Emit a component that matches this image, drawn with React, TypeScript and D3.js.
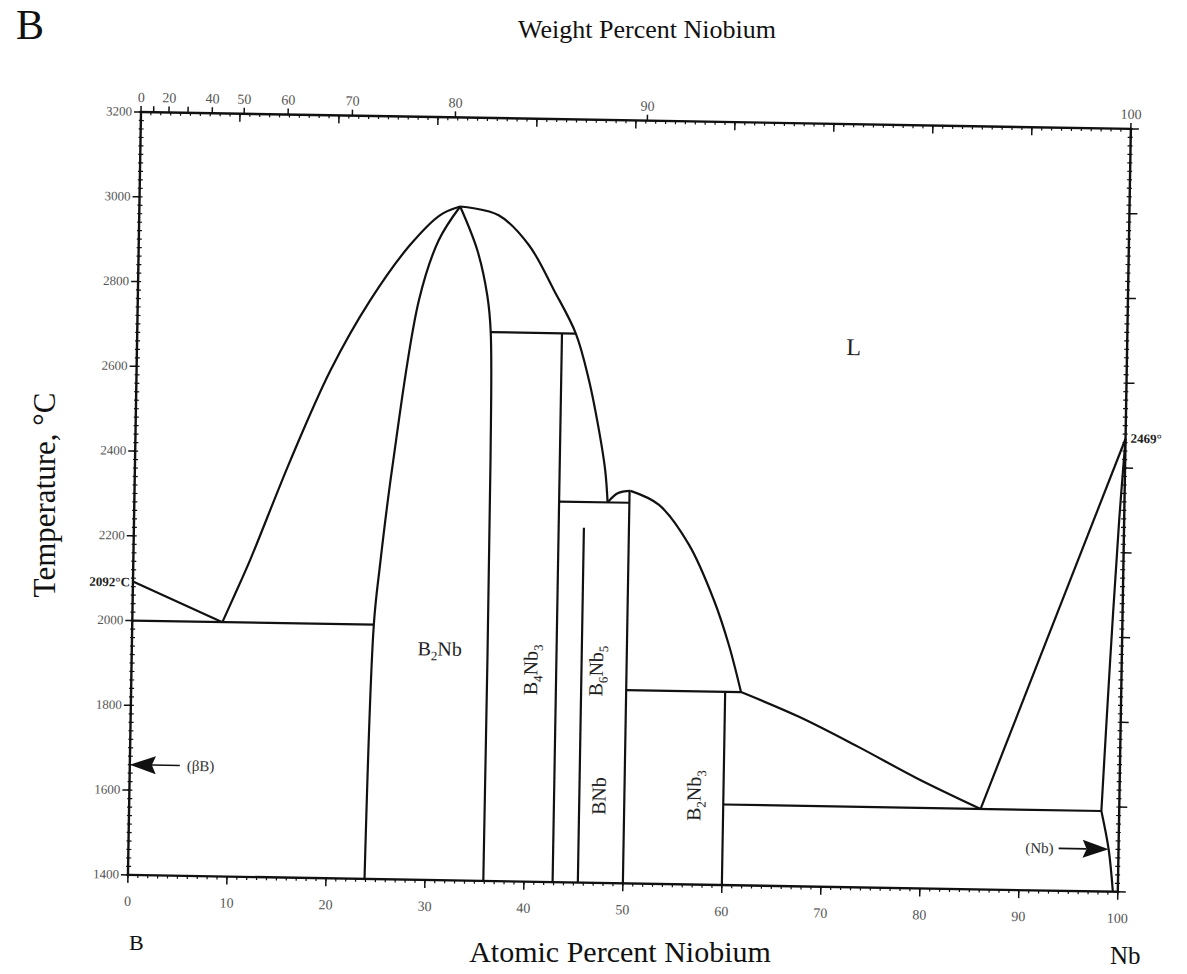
import React from "react";
import * as d3 from "d3";

// ---- axis ticks ----
const atomicTicks = [0, 10, 20, 30, 40, 50, 60, 70, 80, 90, 100];
const weightTicks = [0, 10, 20, 30, 40, 50, 60, 70, 80, 90, 100];
const weightLabels = [0, 20, 40, 50, 60, 70, 80, 90, 100];
const tempTicks = [1400, 1600, 1800, 2000, 2200, 2400, 2600, 2800, 3000, 3200];

// ---- phase boundaries (atomic % Nb, °C) ----
const boronLiquidus = [[0, 2092], [9.1, 2000]];
const liquidusB2NbLeft = [[9.1, 2000], [10.3, 2065], [11.8, 2148], [15.7, 2385], [19.6, 2599], [23.5, 2766], [27.4, 2897], [30.4, 2969], [32.4, 2990]];
const liquidusB2NbRight = [[32.4, 2990], [36.3, 2971], [39.4, 2902], [42.0, 2797], [44.3, 2695], [45.7, 2586], [46.8, 2468], [47.5, 2374], [47.8, 2298]];
const humpBNb = [[47.8, 2298], [48.8, 2320], [50.1, 2326]];
const liquidusBNbRight = [[50.1, 2326], [53.0, 2294], [56.1, 2201], [58.7, 2072], [60.3, 1966], [61.6, 1856]];
const liquidusB2Nb3 = [[61.6, 1856], [67.5, 1800], [73.5, 1732], [79.5, 1660], [86.0, 1590]];
const liquidusNb = [[86.0, 1590], [100, 2469]];
const solidusNb = [[100, 2469], [99.5, 2278], [98.8, 1930], [98.2, 1590]];
const solvusNb = [[98.2, 1590], [99.0, 1500], [99.5, 1400]];
const b2NbLeft = [[32.4, 2990], [30.3, 2910], [28.4, 2768], [26.0, 2373], [24.9, 2136], [24.4, 2000], [23.9, 1400]];
const b2NbRight = [[32.4, 2990], [34.2, 2888], [35.3, 2780], [35.7, 2695], [35.9, 2400], [35.9, 1400]];

const horizontals = [
  [[0, 2000], [24.4, 2000]],
  [[35.7, 2695], [44.3, 2695]],
  [[42.9, 2298], [50.0, 2298]],
  [[50.0, 1856], [61.6, 1856]],
  [[60.0, 1590], [98.2, 1590]],
];
const verticals = [
  [[42.9, 2695], [42.9, 1400]],
  [[45.45, 2237], [45.45, 1400]],
  [[50.0, 2326], [50.0, 1400]],
  [[60.0, 1856], [60.0, 1400]],
];

const W = 990;
const H = 763;

const wtToAt = (w: number) => {
  const a = w / 92.906;
  const b = (100 - w) / 10.811;
  return (100 * a) / (a + b);
};

export default function App() {
  const x = d3.scaleLinear().domain([0, 100]).range([0, W]);
  const y = d3.scaleLinear().domain([1400, 3200]).range([H, 0]);
  const smooth = d3
    .line<number[]>()
    .x((d) => x(d[0]))
    .y((d) => y(d[1]))
    .curve(d3.curveCatmullRom.alpha(0.5));
  const straight = d3
    .line<number[]>()
    .x((d) => x(d[0]))
    .y((d) => y(d[1]));

  const curves = [liquidusB2NbLeft, liquidusB2NbRight, humpBNb, liquidusBNbRight, liquidusB2Nb3, solidusNb, solvusNb, b2NbLeft, b2NbRight];
  const lines = [boronLiquidus, liquidusNb, ...horizontals, ...verticals];

  const minorAt = d3.range(0, 101, 1);
  const minorT = d3.range(1400, 3201, 20);
  const font = "'Liberation Serif', 'Times New Roman', serif";
  const stroke = "#111";

  const bArrowY = y(1660);
  const nbArrowY = y(1500);
  const nbTipX = x(99.0);

  return (
    <svg width={1187} height={974} style={{ display: "block", background: "#fff", position: "absolute", left: 0, top: 0 }} fontFamily={font}>
      <text x={16} y={39} fontSize={42} fill="#111">B</text>
      <text x={647} y={38} fontSize={26} textAnchor="middle" fill="#111">Weight Percent Niobium</text>
      <text transform="translate(55,495) rotate(-90)" fontSize={31} textAnchor="middle" fill="#111">Temperature, °C</text>
      <text x={620} y={962} fontSize={30} textAnchor="middle" fill="#111">Atomic Percent Niobium</text>
      <text x={129} y={950} fontSize={22} fill="#111">B</text>
      <text x={1110} y={964} fontSize={25} fill="#111">Nb</text>

      <g transform="translate(141,112) rotate(0.98)">
        <rect x={0} y={0} width={W} height={H} fill="none" stroke={stroke} strokeWidth={2.4} />

        {minorAt.map((v) => (
          <g key={"ma" + v}>
            <line x1={x(v)} x2={x(v)} y1={H} y2={H + 3} stroke={stroke} strokeWidth={1.2} />
            <line x1={x(v)} x2={x(v)} y1={0} y2={3} stroke={stroke} strokeWidth={1.2} />
          </g>
        ))}
        {atomicTicks.map((v) => (
          <g key={"at" + v}>
            <line x1={x(v)} x2={x(v)} y1={H} y2={H + 8} stroke={stroke} strokeWidth={1.5} />
            <line x1={x(v)} x2={x(v)} y1={0} y2={8} stroke={stroke} strokeWidth={1.5} />
            <text x={x(v)} y={H + 31} fontSize={14} textAnchor="middle" fill="#555">{v}</text>
          </g>
        ))}
        {weightTicks.map((w) => (
          <line key={"wt" + w} x1={x(wtToAt(w))} x2={x(wtToAt(w))} y1={0} y2={-6} stroke={stroke} strokeWidth={1.5} />
        ))}
        {weightLabels.map((w) => (
          <text key={"wl" + w} x={x(wtToAt(w))} y={-10} fontSize={14} textAnchor="middle" fill="#555">{w}</text>
        ))}

        {minorT.map((t) => (
          <g key={"mt" + t}>
            <line x1={-2} x2={3} y1={y(t)} y2={y(t)} stroke={stroke} strokeWidth={1.2} />
            <line x1={W - 3} x2={W + 2} y1={y(t)} y2={y(t)} stroke={stroke} strokeWidth={1.2} />
          </g>
        ))}
        {tempTicks.map((t) => (
          <g key={"tt" + t}>
            <line x1={-7} x2={0} y1={y(t)} y2={y(t)} stroke={stroke} strokeWidth={1.5} />
            <line x1={W} x2={W + 8} y1={y(t)} y2={y(t)} stroke={stroke} strokeWidth={1.5} />
            <text x={-9} y={y(t) + 4} fontSize={13} textAnchor="end" fill="#555">{t}</text>
          </g>
        ))}

        {curves.map((c, i) => (
          <path key={"c" + i} d={smooth(c) || ""} fill="none" stroke={stroke} strokeWidth={2.2} />
        ))}
        {lines.map((c, i) => (
          <path key={"l" + i} d={straight(c) || ""} fill="none" stroke={stroke} strokeWidth={2.2} />
        ))}

        <path d={`M${x(0)},${bArrowY} L${x(0) + 26},${bArrowY - 9} L${x(0) + 22},${bArrowY} L${x(0) + 26},${bArrowY + 9} Z`} fill={stroke} />
        <line x1={x(0) + 22} x2={x(0) + 50} y1={bArrowY} y2={bArrowY} stroke={stroke} strokeWidth={1.6} />
        <text x={x(0) + 57} y={bArrowY + 5} fontSize={15} fill="#333">(βB)</text>

        <path d={`M${nbTipX},${nbArrowY} L${nbTipX - 26},${nbArrowY - 9} L${nbTipX - 22},${nbArrowY} L${nbTipX - 26},${nbArrowY + 9} Z`} fill={stroke} />
        <line x1={nbTipX - 50} x2={nbTipX - 22} y1={nbArrowY} y2={nbArrowY} stroke={stroke} strokeWidth={1.6} />
        <text x={nbTipX - 55} y={nbArrowY + 5} fontSize={15} textAnchor="end" fill="#333">(Nb)</text>

        <text x={-3} y={y(2092) + 5} fontSize={13} fontWeight="bold" textAnchor="end" fill="#222">2092°C</text>
        <text x={W + 5} y={y(2469) + 4} fontSize={13} fontWeight="bold" fill="#222">2469°</text>

        <text x={x(72.4)} y={y(2655)} fontSize={24} textAnchor="middle" fill="#222">L</text>
        <text x={x(31.1)} y={y(1930)} fontSize={20} textAnchor="middle" fill="#222">
          B<tspan dy={5} fontSize={13}>2</tspan><tspan dy={-5}>Nb</tspan>
        </text>
        <text transform={`translate(${x(41.0)},${y(1900)}) rotate(-90)`} fontSize={20} textAnchor="middle" fill="#222">
          B<tspan dy={5} fontSize={13}>4</tspan><tspan dy={-5}>Nb</tspan><tspan dy={5} fontSize={13}>3</tspan>
        </text>
        <text transform={`translate(${x(47.6)},${y(1900)}) rotate(-90)`} fontSize={20} textAnchor="middle" fill="#222">
          B<tspan dy={5} fontSize={13}>6</tspan><tspan dy={-5}>Nb</tspan><tspan dy={5} fontSize={13}>5</tspan>
        </text>
        <text transform={`translate(${x(48.1)},${y(1605)}) rotate(-90)`} fontSize={20} textAnchor="middle" fill="#222">BNb</text>
        <text transform={`translate(${x(57.7)},${y(1610)}) rotate(-90)`} fontSize={20} textAnchor="middle" fill="#222">
          B<tspan dy={5} fontSize={13}>2</tspan><tspan dy={-5}>Nb</tspan><tspan dy={5} fontSize={13}>3</tspan>
        </text>
      </g>
    </svg>
  );
}
